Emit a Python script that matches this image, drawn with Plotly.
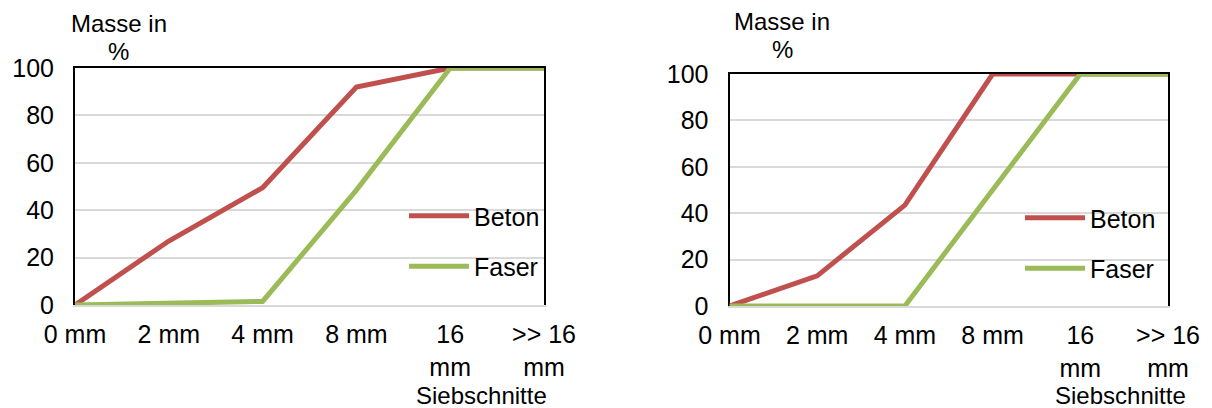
import plotly.graph_objects as go

W, H = 1212, 408

categories = ["0 mm", "2 mm", "4 mm", "8 mm", "16 mm", ">> 16 mm"]
tick_labels = ["0 mm", "2 mm", "4 mm", "8 mm", "16<br>mm", ">> 16<br>mm"]

beton_left = [0, 27, 49.5, 92, 100, 100]
faser_left = [0, 0.5, 1.5, 48.5, 100, 100]

beton_right = [0, 13, 43.5, 100, 100, 100]
faser_right = [0, 0, 0, 50, 100, 100]

y_ticks = [0, 20, 40, 60, 80, 100]

RED = "#C0504D"
GREEN = "#9BBB59"
FONT = "Liberation Sans, Arial, sans-serif"
FS = 25
FS_TITLE = 24


def px_x(p):
    return p / W


def px_y(p):
    return 1 - p / H


fig = go.Figure()

fig.add_trace(go.Scatter(x=categories, y=beton_left, mode="lines", name="Beton",
                         line=dict(color=RED, width=5), xaxis="x", yaxis="y",
                         legend="legend", legendgroup="b1", cliponaxis=False))
fig.add_trace(go.Scatter(x=categories, y=faser_left, mode="lines", name="Faser",
                         line=dict(color=GREEN, width=5), xaxis="x", yaxis="y",
                         legend="legend", legendgroup="f1", cliponaxis=False))
fig.add_trace(go.Scatter(x=categories, y=beton_right, mode="lines", name="Beton",
                         line=dict(color=RED, width=5), xaxis="x2", yaxis="y2",
                         legend="legend2", legendgroup="b2", cliponaxis=False))
fig.add_trace(go.Scatter(x=categories, y=faser_right, mode="lines", name="Faser",
                         line=dict(color=GREEN, width=5), xaxis="x2", yaxis="y2",
                         legend="legend2", legendgroup="f2", cliponaxis=False))

xaxis_common = dict(
    type="category", categoryorder="array", categoryarray=categories,
    range=[0, 5], tickmode="array", tickvals=categories, ticktext=tick_labels,
    showgrid=False, zeroline=False, showline=True, linecolor="#D9D9D9", linewidth=2,
    ticks="outside", ticklen=6, tickcolor="rgba(0,0,0,0)", layer="below traces",
    tickfont=dict(family=FONT, size=FS, color="#000000"), fixedrange=True,
    automargin=False,
)
top_axis_common = dict(
    type="category", categoryorder="array", categoryarray=categories,
    range=[0, 5], side="top", showgrid=False, zeroline=False,
    showline=True, linecolor="#000000", linewidth=2, showticklabels=False,
    ticks="", layer="below traces", fixedrange=True, automargin=False,
)
yaxis_common = dict(
    range=[0, 100], tickmode="array", tickvals=y_ticks,
    showgrid=True, gridcolor="#D9D9D9", gridwidth=1.5, zeroline=False,
    showline=True, linecolor="#000000", linewidth=2, mirror=True,
    ticks="outside", ticklen=14, tickcolor="rgba(0,0,0,0)", layer="below traces",
    tickfont=dict(family=FONT, size=FS, color="#000000"), fixedrange=True,
    automargin=False,
)

fig.update_layout(
    width=W, height=H,
    margin=dict(l=0, r=0, t=0, b=0, autoexpand=False),
    paper_bgcolor="white", plot_bgcolor="white",
    font=dict(family=FONT, size=FS, color="#000000"),
    xaxis=dict(domain=[px_x(75), px_x(544)], anchor="y", **xaxis_common),
    yaxis=dict(domain=[px_y(305), px_y(68)], anchor="x", **yaxis_common),
    xaxis2=dict(domain=[px_x(729.5), px_x(1168)], anchor="y2", **xaxis_common),
    yaxis2=dict(domain=[px_y(306), px_y(74)], anchor="x2", **yaxis_common),
    xaxis3=dict(overlaying="x", anchor="y", **top_axis_common),
    xaxis4=dict(overlaying="x2", anchor="y2", **top_axis_common),
    legend=dict(x=px_x(404), y=px_y(193), xanchor="left", yanchor="top",
                bgcolor="rgba(0,0,0,0)", borderwidth=0, itemwidth=60,
                tracegroupgap=15, font=dict(family=FONT, size=FS, color="#000000")),
    legend2=dict(x=px_x(1020), y=px_y(195), xanchor="left", yanchor="top",
                 bgcolor="rgba(0,0,0,0)", borderwidth=0, itemwidth=60,
                 tracegroupgap=15, font=dict(family=FONT, size=FS, color="#000000")),
    showlegend=True,
)

# invisible helper traces so the top border axes are drawn
for xa, ya in (("x3", "y"), ("x4", "y2")):
    fig.add_trace(go.Scatter(x=[categories[0]], y=[None], xaxis=xa, yaxis=ya,
                             mode="lines", showlegend=False, hoverinfo="skip"))

annotations = [
    dict(text="Masse in", x=px_x(118.5), y=px_y(23), size=FS_TITLE),
    dict(text="%", x=px_x(118.5), y=px_y(51), size=FS_TITLE),
    dict(text="Masse in", x=px_x(782), y=px_y(21), size=FS_TITLE),
    dict(text="%", x=px_x(782), y=px_y(49), size=FS_TITLE),
    dict(text="Siebschnitte", x=px_x(481), y=px_y(395), size=FS_TITLE),
    dict(text="Siebschnitte", x=px_x(1120), y=px_y(395), size=FS_TITLE),
]
for a in annotations:
    size = a.pop("size")
    fig.add_annotation(xref="paper", yref="paper", showarrow=False,
                       xanchor="center", yanchor="middle",
                       font=dict(family=FONT, size=size, color="#000000"), **a)

fig.write_html("out.html")
